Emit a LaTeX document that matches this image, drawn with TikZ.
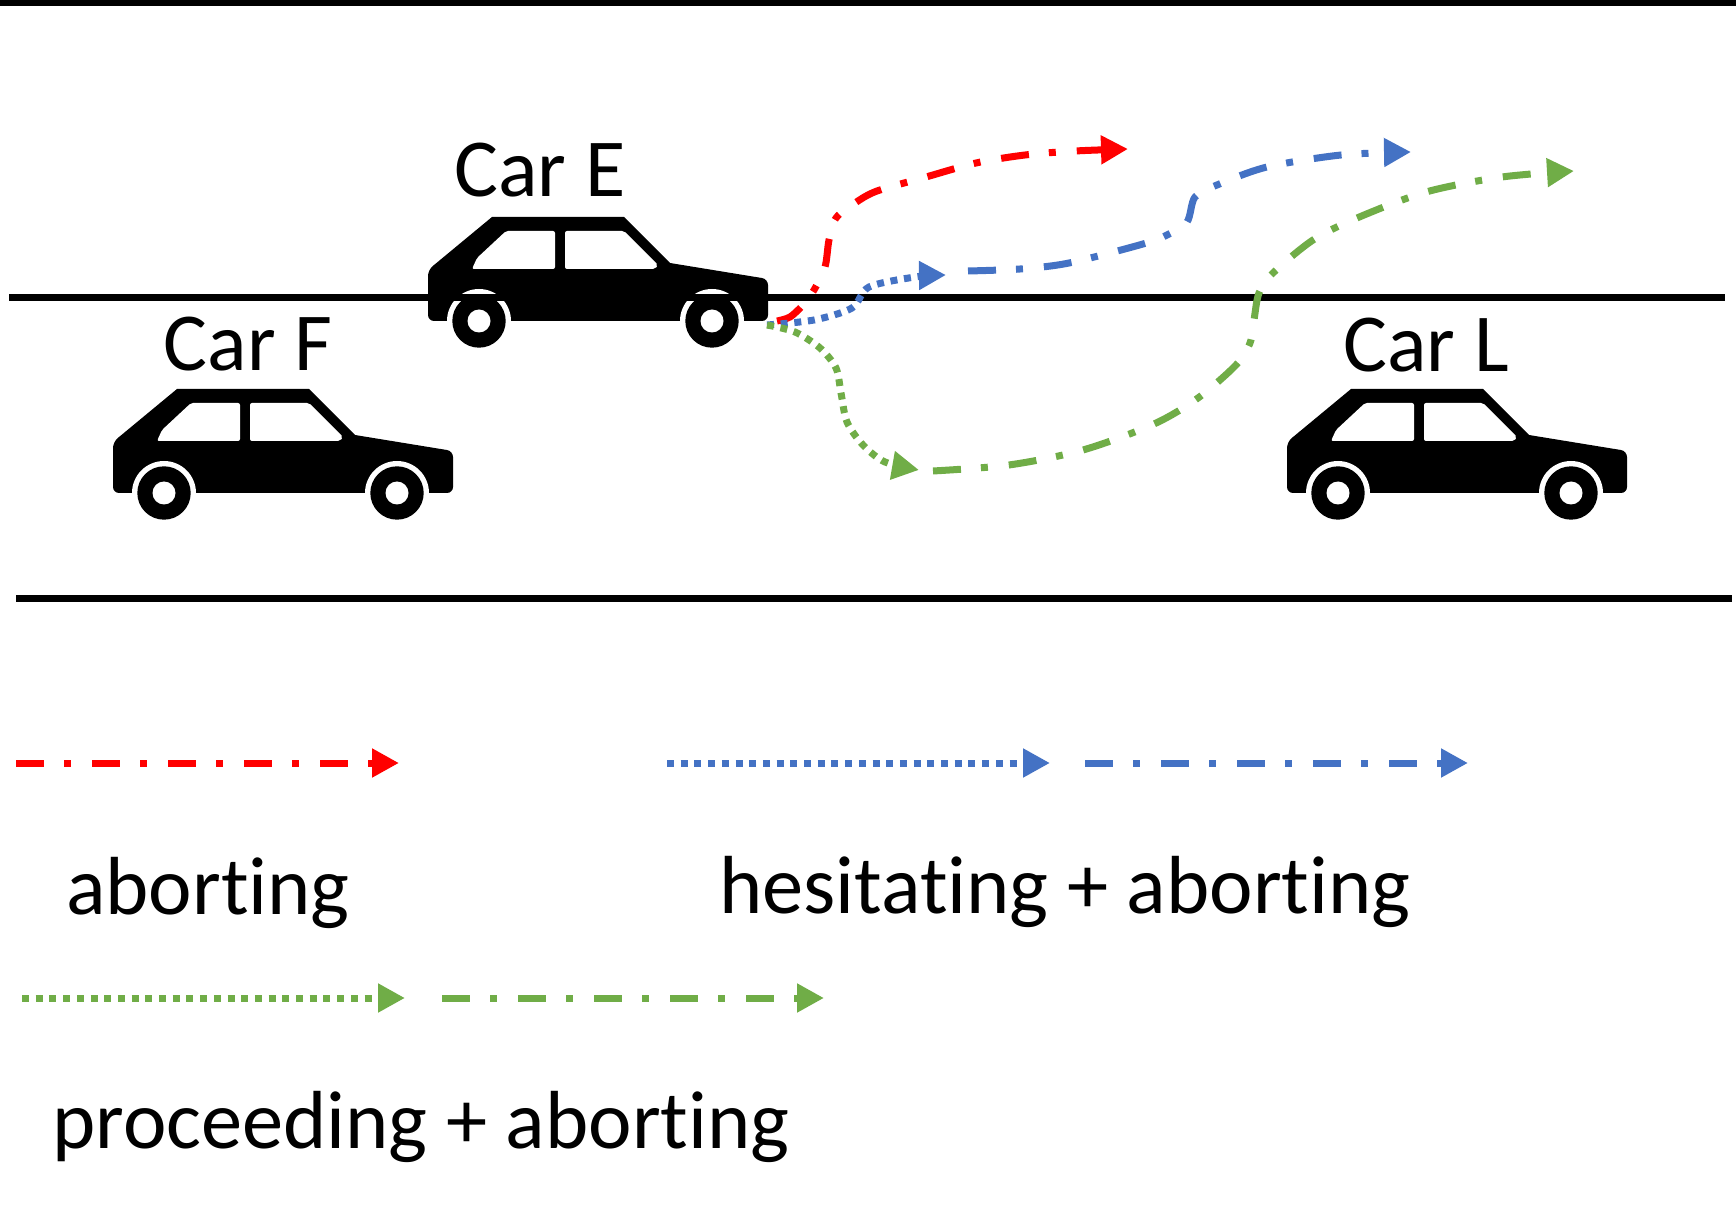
\documentclass[tikz,border=0pt]{standalone}
\usepackage{fontspec}
\setmainfont[Ligatures=NoCommon]{Carlito}
\usepackage{xcolor}
\usetikzlibrary{arrows.meta}
\definecolor{abortred}{HTML}{FF0000}
\definecolor{hesitblue}{HTML}{4472C4}
\definecolor{proceedgreen}{HTML}{70AD47}
\tikzset{
	road/.style = {draw=black, line width=3.5pt},
	dashdotline/.style = {line width=3.5pt, dash pattern=on 14pt off 10pt on 3.5pt off 10.5pt, -{Triangle[length=13.5pt,width=13.7pt]}},
	dotline/.style = {line width=3.5pt, dash pattern=on 3.5pt off 3.35pt, -{Triangle[length=13.5pt,width=13.7pt]}},
	label/.style = {anchor=base, inner sep=0pt, font=\fontsize{41.2}{48}\selectfont},
	pics/car/.style = {code={
			\fill[black, rounded corners=3pt] (100,0) -- (-51,0) -- (-51,-51) [sharp corners] -- (13,-104) -- (145,-104) -- (191,-58) [rounded corners=3pt] -- (289,-42) -- (289,0) -- cycle;
			\fill[white, rounded corners=1pt] (27,-90) -- (76,-90) -- (76,-52) -- (-7,-52) -- (-2,-63) -- cycle;
			\fill[white, rounded corners=1pt] (86,-90) -- (145,-90) -- (179,-56) -- (176,-52) -- (86,-52) -- cycle;
			\foreach \wheelx in {0,233} {
					\fill[white] (\wheelx,0) circle (32);
					\fill[black] (\wheelx,0) circle (26.7);
					\fill[white] (\wheelx,0) circle (11.5);
				}
		}}
}

\begin{document}
\begin{tikzpicture}[x=0.5pt,y=-0.5pt]
	\useasboundingbox (0,0) rectangle (1736,1219);

	\pic at (479,321) {car};
	\pic at (164,493) {car};
	\pic at (1338,493) {car};

	\coordinate (top west) at (0,3);
	\coordinate (top east) at (1736,3);
	\coordinate (mid west) at (9,298);
	\coordinate (mid east) at (1725,298);
	\coordinate (low west) at (16,599);
	\coordinate (low east) at (1732,599);
	\draw[road] (top west) -- (top east);
	\draw[road] (mid west) -- (mid east);
	\draw[road] (low west) -- (low east);

	\node[label] at (540,197) (carE) {Car E};
	\node[label] at (248,371) (carF) {Car F};
	\node[label] at (1426,372) (carL) {Car L};

	\coordinate (red start) at (777,321);
	\coordinate (red tip) at (1128,149);
	\coordinate (blue start) at (767,325);
	\coordinate (blue mid) at (946,275);
	\coordinate (blue next) at (968,271);
	\coordinate (blue tip) at (1411,152);
	\coordinate (green start) at (767,325);
	\coordinate (green mid) at (919,470);
	\coordinate (green next) at (933,471);
	\coordinate (green tip) at (1574,171);

	\draw[dashdotline, abortred] plot[smooth] coordinates {(red start) (790,317) (803,305) (814,290) (825,267) (829,240) (836,218) (855,203) (877,191) (926,177) (976,163) (1025,155) (1075,151) (red tip)};
	\draw[dotline, hesitblue] plot[smooth] coordinates {(blue start) (814,320) (852,308) (869,287) (915,277) (blue mid)};
	\draw[dashdotline, hesitblue] plot[smooth] coordinates {(blue next) (1020,269) (1069,263) (1143,244) (1167,235) (1187,222) (1195,197) (1217,185) (1267,167) (1341,155) (blue tip)};
	\draw[dotline, proceedgreen] plot[smooth] coordinates {(green start) (795,332) (820,348) (836,368) (841,393) (847,422) (863,445) (885,462) (green mid)};
	\draw[dashdotline, proceedgreen] plot[smooth] coordinates {(green next) (1009,465) (1083,450) (1154,424) (1198,398) (1236,365) (1250,343) (1254,320) (1259,293) (1273,273) (1313,240) (1357,218) (1426,192) (1502,177) (green tip)};

	\coordinate (leg a) at (16,763);
	\coordinate (leg b) at (399,763);
	\coordinate (leg c) at (667,763);
	\coordinate (leg d) at (1050,763);
	\coordinate (leg e) at (1085,763);
	\coordinate (leg f) at (1468,763);
	\coordinate (leg g) at (22,998);
	\coordinate (leg h) at (405,998);
	\coordinate (leg i) at (442,998);
	\coordinate (leg j) at (824,998);
	\draw[dashdotline, abortred] (leg a) -- (leg b);
	\draw[dotline, hesitblue] (leg c) -- (leg d);
	\draw[dashdotline, hesitblue] (leg e) -- (leg f);
	\draw[dotline, proceedgreen] (leg g) -- (leg h);
	\draw[dashdotline, proceedgreen] (leg i) -- (leg j);

	\node[label] at (208,914) (aborting) {aborting};
	\node[label] at (1065,913) (hesitating) {hesitating + aborting};
	\node[label] at (421,1148) (proceeding) {proceeding + aborting};
\end{tikzpicture}
\end{document}
